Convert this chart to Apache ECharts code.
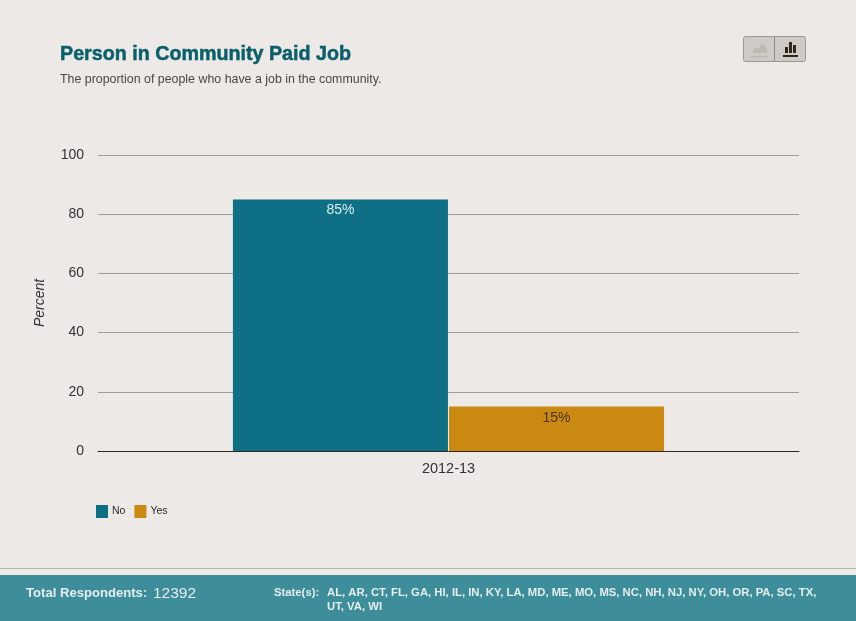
<!DOCTYPE html>
<html><head><meta charset="utf-8">
<style>html,body{margin:0;padding:0;background:#ece9e6}#c{width:856px;height:621px}</style>
<script src="https://cdn.jsdelivr.net/npm/echarts@6/dist/echarts.min.js"></script>
</head><body><div id="c"></div>
<script>
const categories = ['2012-13'];
const noValues = [85];
const yesValues = [15];
const yTicks = [0, 20, 40, 60, 80, 100];
const titleText = 'Person in Community Paid Job';
const subtitleText = 'The proportion of people who have a job in the community.';
const respondentsLabel = 'Total Respondents:';
const respondentsValue = '12392';
const statesLabel = 'State(s):';
const statesLines = ['AL, AR, CT, FL, GA, HI, IL, IN, KY, LA, MD, ME, MO, MS, NC, NH, NJ, NY, OH, OR, PA, SC, TX,', 'UT, VA, WI'];

const F = '"Liberation Sans", Arial, sans-serif';
const chart = echarts.init(document.getElementById('c'), null, {renderer:'canvas'});
const txt = (x,y,text,font,fill,extra) => ({type:'text',x,y,silent:true,z:10,style:Object.assign({text,font,fill,textVerticalAlign:'middle'},extra||{})});
chart.setOption({
  backgroundColor:'#ece9e6',
  animation:false,
  title:[
    {text:titleText,left:60,top:45,padding:0,textStyle:{fontFamily:F,fontSize:19.7,fontWeight:'bold',color:'#0b5f6b',textBorderColor:'#0b5f6b',textBorderWidth:0.5}},
    {text:subtitleText,left:60,top:74,padding:0,textStyle:{fontFamily:F,fontSize:12.4,fontWeight:'normal',color:'#4f463f'}}
  ],
  legend:{left:96,top:505,itemWidth:12,itemHeight:13,itemGap:9,icon:'rect',padding:0,
    textStyle:{fontFamily:F,fontSize:10.5,color:'#2a2a2a',padding:[1,0,0,-1]},data:['No','Yes']},
  grid:{left:98,right:57,top:155,bottom:170},
  xAxis:{type:'category',data:categories,
    axisLine:{lineStyle:{color:'#33261a',width:1}},axisTick:{show:false},
    axisLabel:{fontFamily:F,fontSize:14.5,color:'#333',margin:10}},
  yAxis:{type:'value',min:yTicks[0],max:yTicks[yTicks.length-1],interval:20,
    name:'Percent',nameLocation:'middle',nameGap:51,nameRotate:90,
    nameTextStyle:{fontFamily:F,fontSize:14,fontStyle:'italic',color:'#333'},
    axisLine:{show:false},axisTick:{show:false},
    axisLabel:{fontFamily:F,fontSize:14,color:'#333',margin:14,padding:[4,0,0,0]},
    splitLine:{lineStyle:{color:'#a09c98',width:1}}},
  series:[
    {name:'No',type:'bar',data:noValues,barCategoryGap:'38.5%',barGap:'0.5%',
     itemStyle:{color:'#0f6f84'},
     label:{show:true,position:'insideTop',distance:4,formatter:'{c}%',fontFamily:F,fontSize:14,color:'#d8eef0'}},
    {name:'Yes',type:'bar',data:yesValues,
     itemStyle:{color:'#ca8a12'},
     label:{show:true,position:'insideTop',distance:5,formatter:'{c}%',fontFamily:F,fontSize:14,color:'#4a3410'}}
  ],
  graphic:[
    {type:'rect',shape:{x:0,y:568,width:856,height:1},style:{fill:'#b9b8a8'},silent:true},
    {type:'rect',shape:{x:0,y:575,width:856,height:46},style:{fill:'#3d8d9a'},silent:true},
    txt(26,593.5,respondentsLabel,'bold 13.1px '+F,'#e4eeee'),
    txt(153,593.5,respondentsValue,'15.5px '+F,'#e4eeee'),
    txt(274,592.5,statesLabel,'bold 11.3px '+F,'#e4eeee'),
    txt(327,592.5,statesLines[0],'bold 11.3px '+F,'#e4eeee'),
    txt(327,607,statesLines[1],'bold 11.3px '+F,'#e4eeee'),
    {type:'rect',shape:{x:743.5,y:36.5,width:62,height:25,r:2},style:{fill:'#cfcac5',stroke:'#9c9792',lineWidth:1},silent:true},
    {type:'rect',shape:{x:774,y:37,width:1,height:24},style:{fill:'#8f8a85'},silent:true},
    {type:'polygon',shape:{points:[[752,53],[755,48],[758,49],[761,45],[764,44],[767,49],[767,53]]},style:{fill:'#bdb8b2'},silent:true},
    {type:'rect',shape:{x:751,y:56,width:16,height:1.5},style:{fill:'#bdb8b2'},silent:true},
    {type:'rect',shape:{x:785,y:47,width:3,height:6},style:{fill:'#33261a'},silent:true},
    {type:'rect',shape:{x:789,y:42,width:3,height:11},style:{fill:'#33261a'},silent:true},
    {type:'rect',shape:{x:793,y:45,width:3,height:8},style:{fill:'#33261a'},silent:true},
    {type:'rect',shape:{x:783,y:55,width:15,height:2},style:{fill:'#33261a'},silent:true}
  ]
});
</script></body></html>
